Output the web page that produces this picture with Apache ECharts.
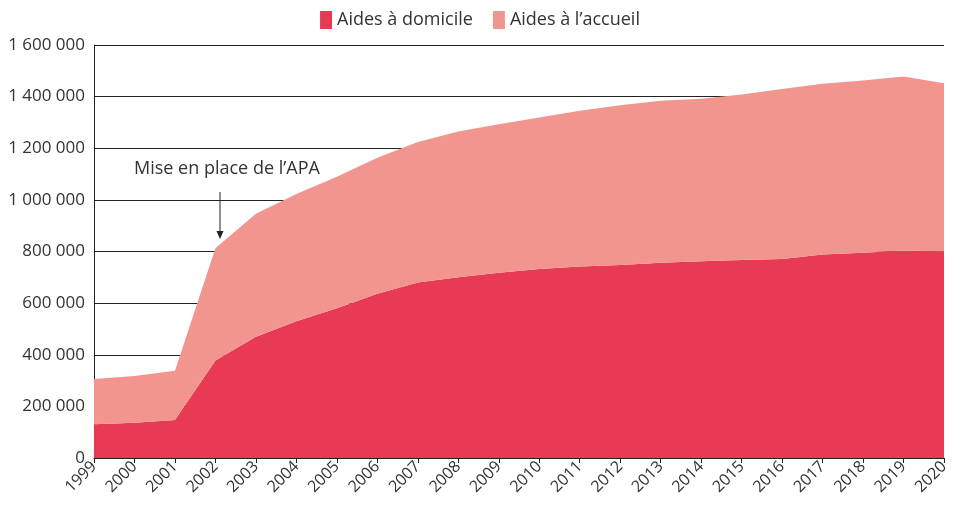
<!DOCTYPE html>
<html>
<head>
<meta charset="utf-8">
<script src="https://cdn.jsdelivr.net/npm/echarts@6/dist/echarts.min.js"></script>
<style>
  html, body { margin: 0; padding: 0; background: #fff; }
  #chart { width: 960px; height: 507px; }
</style>
</head>
<body>
<div id="chart"></div>
<script>
// données (nombre de bénéficiaires)
const annees = ['1999', '2000', '2001', '2002', '2003', '2004', '2005', '2006', '2007', '2008', '2009',
  '2010', '2011', '2012', '2013', '2014', '2015', '2016', '2017', '2018', '2019', '2020']
const aidesDomicile = [131000, 137000, 147000, 378000, 470000, 530000, 580000, 636000, 680000, 700000, 718000,
  732000, 742000, 748000, 756000, 762000, 767000, 771000, 788000, 795000, 804000, 800000]
const aidesAccueil = [175000, 181000, 191000, 435000, 476000, 493000, 510000, 527000, 544000, 565000, 575000,
  587000, 603000, 619000, 628000, 630000, 641000, 659000, 662000, 667000, 674000, 652000]
const yTicks = [0, 200000, 400000, 600000, 800000, 1000000, 1200000, 1400000, 1600000]

const police = '"Open Sans", "Noto Sans", sans-serif'
const texte = '#333'

let myChart = echarts.init(document.getElementById('chart'))

// séparateur de milliers : espace
let fmt = v => String(v).replace(/\B(?=(\d{3})+(?!\d))/g, ' ')

let options = {
  animation: false,
  textStyle: { fontFamily: police },
  legend: {
    top: 6,
    left: 'center',
    itemWidth: 12,
    itemHeight: 18,
    itemGap: 20,
    icon: 'rect',
    textStyle: { fontSize: 18, color: texte, fontFamily: police },
    data: ['Aides à domicile', 'Aides à l’accueil']
  },
  grid: { left: 94, right: 16, top: 45, bottom: 49, containLabel: false },
  xAxis: {
    type: 'category',
    boundaryGap: false,
    data: annees,
    axisLine: { lineStyle: { color: '#222', width: 1 } },
    axisTick: { show: true, length: 5, lineStyle: { color: '#222' } },
    axisLabel: { rotate: 45, fontSize: 16, color: texte, margin: 6, fontFamily: police }
  },
  yAxis: {
    type: 'value',
    min: yTicks[0],
    max: yTicks[yTicks.length - 1],
    interval: yTicks[1] - yTicks[0],
    axisLine: { show: true, lineStyle: { color: '#222', width: 1 } },
    axisTick: { show: false },
    splitLine: { lineStyle: { color: '#222', width: 1 } },
    axisLabel: { fontSize: 17, color: texte, margin: 9, formatter: fmt, fontFamily: police }
  },
  series: [
    {
      name: 'Aides à domicile',
      type: 'line',
      stack: 'total',
      data: aidesDomicile,
      symbol: 'none',
      lineStyle: { width: 0 },
      itemStyle: { color: '#E83A52' },
      areaStyle: { color: '#E83A52', opacity: 1 }
    },
    {
      name: 'Aides à l’accueil',
      type: 'line',
      stack: 'total',
      data: aidesAccueil,
      symbol: 'none',
      lineStyle: { width: 0 },
      itemStyle: { color: '#F2958F' },
      areaStyle: { color: '#F2958F', opacity: 1 }
    }
  ],
  // annotation
  graphic: [
    {
      type: 'text',
      left: 134,
      top: 160,
      style: { text: 'Mise en place de l’APA', fontSize: 18, fill: texte, fontFamily: police }
    },
    {
      type: 'line',
      shape: { x1: 220, y1: 192, x2: 220, y2: 233 },
      style: { stroke: '#222', lineWidth: 1 }
    },
    {
      type: 'polygon',
      shape: { points: [[216.5, 231], [223.5, 231], [220, 239]] },
      style: { fill: '#222' }
    }
  ]
}

myChart.setOption(options)
</script>
</body>
</html>
